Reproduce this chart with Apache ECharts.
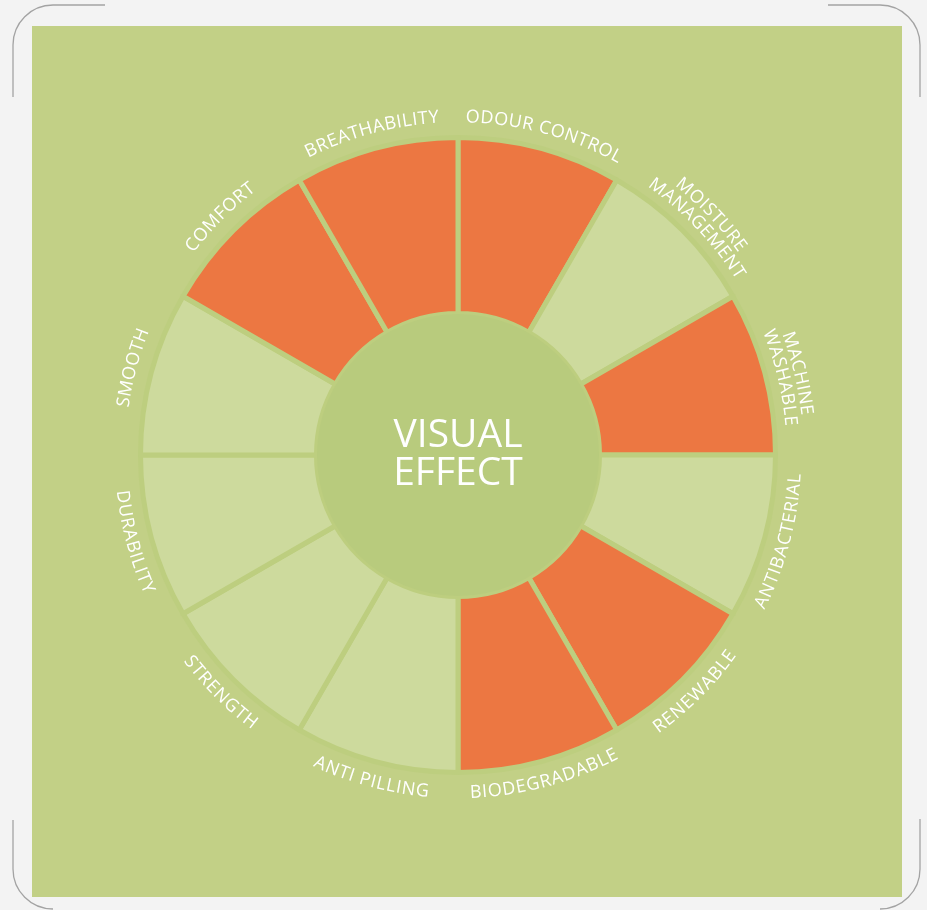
<!DOCTYPE html>
<html>
<head>
<meta charset="utf-8">
<script src="https://cdn.jsdelivr.net/npm/echarts@6/dist/echarts.min.js"></script>
<style>
html,body{margin:0;padding:0;background:#f3f3f3;}
#c{width:927px;height:910px;}
</style>
</head>
<body>
<div id="c"></div>
<script>
// ---- data ----
const categories = ['ODOUR CONTROL', 'MOISTURE\nMANAGEMENT', 'MACHINE\nWASHABLE', 'ANTIBACTERIAL', 'RENEWABLE', 'BIODEGRADABLE', 'ANTI PILLING', 'STRENGTH', 'DURABILITY', 'SMOOTH', 'COMFORT', 'BREATHABILITY'];
const shares = [1, 1, 1, 1, 1, 1, 1, 1, 1, 1, 1, 1];
const highlighted = [1, 0, 1, 0, 1, 1, 0, 0, 0, 0, 1, 1];
const centerTitle = ['VISUAL', 'EFFECT'];

// ---- style / layout ----
const CX = 458, CY = 455;
const R_IN = 141.5, R_OUT = 317.5;
const ORANGE = '#ec7742';
const LIGHT = '#cdda9d';
const BG = '#c2d086';
const GAP = '#bdce7f';
const INNER = '#b8cb7d';
const LABEL_FONT = '18px "Open Sans"';

const chart = echarts.init(document.getElementById('c'), null, {renderer: 'canvas'});

const measure = document.createElement('canvas').getContext('2d');
function curvedText(text, midDeg, r, inward) {
  measure.font = LABEL_FONT;
  const chars = Array.from(text);
  const spacing = 0.7;
  const widths = chars.map(c => measure.measureText(c).width + spacing);
  const total = widths.reduce((a, b) => a + b, 0) - spacing;
  let cum = 0;
  const out = [];
  chars.forEach((c, i) => {
    const w = widths[i] - spacing;
    const center = cum + w / 2;
    cum += widths[i];
    const off = (center - total / 2) / r;
    const th = midDeg * Math.PI / 180 + (inward ? -off : off);
    if (c === ' ') return;
    out.push({
      type: 'text',
      x: CX + r * Math.sin(th),
      y: CY - r * Math.cos(th),
      rotation: inward ? Math.PI - th : -th,
      z: 10,
      silent: true,
      style: {
        text: c, fill: '#ffffff', font: LABEL_FONT,
        align: 'center', verticalAlign: 'middle',
        textAlign: 'center', textVerticalAlign: 'middle'
      }
    });
  });
  return out;
}

const step = 360 / categories.length;
let labelEls = [];
categories.forEach((name, i) => {
  const mid = step * i + step / 2;
  const inward = mid > 90 && mid < 270;
  const lines = name.split('\n');
  if (lines.length === 1) {
    labelEls = labelEls.concat(curvedText(lines[0], mid, 338, inward));
  } else {
    const radii = inward ? [333, 351] : [351, 334];
    lines.forEach((ln, k) => {
      labelEls = labelEls.concat(curvedText(ln, mid + 1.5, radii[k], inward));
    });
  }
});

const fs = {stroke: '#a3a3a3', fill: 'none', lineWidth: 1.3};
const P = Math.PI;
const frames = [
  {type: 'line', shape: {x1: 13, y1: 97, x2: 13, y2: 45}},
  {type: 'arc', shape: {cx: 53, cy: 45, r: 40, startAngle: P, endAngle: 1.5 * P, clockwise: true}},
  {type: 'line', shape: {x1: 53, y1: 5, x2: 105, y2: 5}},
  {type: 'line', shape: {x1: 828, y1: 5, x2: 880, y2: 5}},
  {type: 'arc', shape: {cx: 880, cy: 45, r: 40, startAngle: 1.5 * P, endAngle: 2 * P, clockwise: true}},
  {type: 'line', shape: {x1: 920, y1: 45, x2: 920, y2: 97}},
  {type: 'line', shape: {x1: 13, y1: 820, x2: 13, y2: 869}},
  {type: 'arc', shape: {cx: 53, cy: 869, r: 40, startAngle: 0.5 * P, endAngle: P, clockwise: true}},
  {type: 'line', shape: {x1: 920, y1: 819, x2: 920, y2: 869}},
  {type: 'arc', shape: {cx: 880, cy: 869, r: 40, startAngle: 0, endAngle: 0.5 * P, clockwise: true}}
].map(e => Object.assign(e, {z: -5, silent: true, style: fs}));

const option = {
  animation: false,
  graphic: {
    elements: [
      {type: 'rect', z: -10, silent: true, shape: {x: 32, y: 26, width: 870, height: 871}, style: {fill: BG}}
    ].concat(frames).concat(labelEls)
  },
  series: [
    {
      type: 'pie',
      center: [CX, CY],
      radius: [R_IN, R_OUT],
      startAngle: 90,
      clockwise: true,
      silent: true,
      z: 2,
      label: {show: false},
      labelLine: {show: false},
      itemStyle: {borderColor: GAP, borderWidth: 5},
      data: categories.map((c, i) => ({
        name: c.replace('\n', ' '),
        value: shares[i],
        itemStyle: {color: highlighted[i] ? ORANGE : LIGHT}
      }))
    },
    {
      type: 'pie',
      center: [CX, CY],
      radius: [0, 141],
      silent: true,
      z: 3,
      labelLine: {show: false},
      label: {
        show: true,
        position: 'center',
        formatter: centerTitle.join('\n'),
        color: '#ffffff',
        fontFamily: 'Open Sans',
        fontSize: 39,
        lineHeight: 38
      },
      itemStyle: {color: INNER},
      data: [{name: centerTitle.join(' '), value: 1}]
    }
  ]
};
chart.setOption(option);
</script>
</body>
</html>
